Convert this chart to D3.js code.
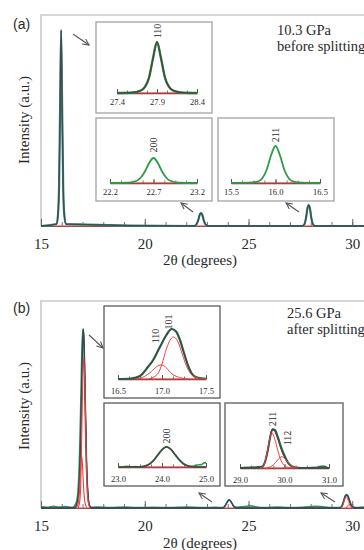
<!DOCTYPE html>
<html><head><meta charset="utf-8">
<script src="https://cdn.jsdelivr.net/npm/d3@7"></script>
<style>
body{margin:0;background:#fff;}
svg{display:block;}
text{font-family:"Liberation Serif","DejaVu Serif",serif;fill:#2a2a2a;}
text.tag{font-family:"Liberation Sans","DejaVu Sans",Arial,sans-serif;}
</style></head><body>
<svg id="c" width="364" height="550"></svg>
<script>
// ---------------- DATA ----------------
const mainTicksMajor = [15, 20, 25, 30];
const mainTicksMinor = [15,16,17,18,19,20,21,22,23,24,25,26,27,28,29,30,31];

// Panel (a) 10.3 GPa, main pattern
const aMainX = [15.0, 15.75, 15.82, 15.87, 15.92, 15.97, 16.02, 16.07, 16.12, 16.2, 22.4, 22.5, 22.58, 22.65, 22.71, 22.77, 22.84, 22.92, 23.05, 27.6, 27.7, 27.77, 27.84, 27.9, 27.96, 28.03, 28.1, 28.2, 31.0];
const aMainY = [0, 0.01, 0.06, 0.2, 0.6, 1.0, 0.6, 0.2, 0.06, 0.01, 0, 0.01, 0.03, 0.058, 0.066, 0.058, 0.03, 0.01, 0, 0, 0.01, 0.04, 0.09, 0.107, 0.09, 0.04, 0.01, 0, 0];

// Inset (a) 110
const a1X = [27.4, 27.6, 27.7, 27.75, 27.8, 27.85, 27.9, 27.95, 28.0, 28.05, 28.1, 28.2, 28.4];
const a1Y = [0, 0.01, 0.05, 0.12, 0.3, 0.68, 1.0, 0.68, 0.3, 0.12, 0.05, 0.01, 0];
const a1Ticks = [27.4, 27.9, 28.4];
// Inset (a) 200
const a2X = [22.2, 22.4, 22.5, 22.55, 22.6, 22.65, 22.7, 22.75, 22.8, 22.85, 22.9, 23.0, 23.2];
const a2Y = [0, 0.01, 0.08, 0.2, 0.45, 0.8, 1.0, 0.8, 0.45, 0.2, 0.08, 0.01, 0];
const a2Ticks = [22.2, 22.7, 23.2];
// Inset (a) 211
const a3X = [15.5, 15.7, 15.8, 15.85, 15.9, 15.95, 16.0, 16.05, 16.1, 16.15, 16.2, 16.3, 16.5];
const a3Y = [0, 0.01, 0.04, 0.12, 0.35, 0.75, 1.0, 0.75, 0.35, 0.12, 0.04, 0.01, 0];
const a3Ticks = [15.5, 16.0, 16.5];

// Panel (b) 25.6 GPa, main pattern (fit)
const bFitX = [15.0, 16.6, 16.72, 16.8, 16.88, 16.94, 16.99, 17.04, 17.09, 17.14, 17.2, 17.27, 17.35, 17.45, 23.75, 23.85, 23.95, 24.07, 24.19, 24.29, 24.4, 29.4, 29.5, 29.58, 29.66, 29.73, 29.8, 29.88, 29.96, 30.05, 30.15, 31.0];
const bFitY = [0, 0, 0.02, 0.07, 0.25, 0.55, 0.85, 1.0, 0.88, 0.58, 0.25, 0.07, 0.01, 0, 0, 0.008, 0.028, 0.045, 0.028, 0.008, 0, 0, 0.01, 0.035, 0.065, 0.073, 0.062, 0.035, 0.012, 0.003, 0, 0];
// main pattern (measured data)
const bDataX = [15.0, 15.3, 15.6, 15.9, 16.2, 16.5, 16.7, 16.78, 16.86, 16.92, 16.97, 17.02, 17.07, 17.12, 17.18, 17.25, 17.33, 17.45, 17.8, 18.3, 19.0, 19.6, 20.4, 21.2, 22.0, 22.8, 23.4, 23.75, 23.85, 23.95, 24.07, 24.19, 24.29, 24.45, 24.8, 25.1, 25.4, 25.8, 26.4, 27.0, 27.6, 28.2, 28.5, 28.9, 29.4, 29.5, 29.58, 29.66, 29.73, 29.8, 29.88, 29.96, 30.05, 30.2, 30.6, 31.0];
const bDataY = [0.008, 0.004, 0.01, 0.005, 0.008, 0.003, 0.03, 0.09, 0.3, 0.6, 0.88, 1.0, 0.9, 0.6, 0.27, 0.08, 0.015, 0.004, 0.006, 0.002, 0.005, 0.002, 0.004, 0.002, 0.005, 0.002, 0.004, 0.002, 0.01, 0.03, 0.046, 0.03, 0.01, 0.004, 0.008, 0.012, 0.006, 0.003, 0.005, 0.002, 0.004, 0.01, 0.008, 0.003, 0.002, 0.012, 0.038, 0.068, 0.075, 0.066, 0.04, 0.015, 0.005, 0.003, 0.006, 0.002];
// main pattern (red components)
const b110X = [16.7, 16.8, 16.87, 16.92, 16.96, 17.0, 17.05, 17.12, 17.22];
const b110Y = [0, 0.03, 0.12, 0.24, 0.29, 0.24, 0.12, 0.03, 0];
const b101X = [16.8, 16.88, 16.94, 17.0, 17.06, 17.12, 17.18, 17.25, 17.35];
const b101Y = [0, 0.05, 0.25, 0.65, 0.84, 0.65, 0.28, 0.06, 0];
const b211X = [29.45, 29.55, 29.63, 29.72, 29.8, 29.88, 30.0];
const b211Y = [0, 0.015, 0.045, 0.062, 0.045, 0.015, 0];
const b112X = [29.7, 29.78, 29.85, 29.93, 30.02];
const b112Y = [0, 0.012, 0.02, 0.012, 0];
const baseX = [15.0, 31.0];
const baseY = [0, 0];

// Inset (b) 110/101
const b1FitX = [16.5, 16.65, 16.75, 16.84, 16.9, 16.95, 17.0, 17.05, 17.11, 17.16, 17.2, 17.25, 17.3, 17.35, 17.4, 17.5];
const b1FitY = [0, 0.01, 0.06, 0.24, 0.38, 0.55, 0.72, 0.88, 1.0, 0.95, 0.8, 0.52, 0.25, 0.08, 0.03, 0.005];
const b1R101X = [16.85, 16.95, 17.0, 17.05, 17.1, 17.13, 17.18, 17.23, 17.28, 17.33, 17.4, 17.5];
const b1R101Y = [0, 0.1, 0.3, 0.6, 0.8, 0.84, 0.75, 0.5, 0.25, 0.1, 0.03, 0];
const b1R110X = [16.7, 16.8, 16.88, 16.94, 16.99, 17.04, 17.1, 17.2, 17.3];
const b1R110Y = [0, 0.05, 0.15, 0.25, 0.28, 0.24, 0.12, 0.03, 0];
const b1Ticks = [16.5, 17.0, 17.5];
// Inset (b) 200
const b2FitX = [23.0, 23.5, 23.6, 23.7, 23.8, 23.9, 24.0, 24.1, 24.2, 24.3, 24.4, 24.5, 24.6, 24.7, 25.0];
const b2FitY = [0, 0.01, 0.04, 0.12, 0.3, 0.58, 0.85, 1.0, 0.88, 0.62, 0.35, 0.15, 0.05, 0.01, 0];
const b2DataX = [23.0, 23.1, 23.2, 23.3, 23.4, 23.5, 23.6, 23.7, 23.8, 23.9, 24.0, 24.1, 24.2, 24.3, 24.4, 24.5, 24.6, 24.7, 24.8, 24.9, 24.95, 25.0];
const b2DataY = [0.02, 0.01, 0.03, 0.01, 0.02, 0.01, 0.05, 0.14, 0.32, 0.6, 0.88, 1.02, 0.9, 0.6, 0.33, 0.13, 0.05, 0.04, 0.1, 0.12, 0.2, 0.22];
const b2Ticks = [23.0, 24.0, 25.0];
// Inset (b) 211/112
const b3FitX = [29.0, 29.4, 29.5, 29.57, 29.63, 29.68, 29.73, 29.78, 29.85, 29.92, 30.0, 30.08, 30.16, 30.25, 30.4, 31.0];
const b3FitY = [0, 0.005, 0.04, 0.2, 0.5, 0.82, 1.0, 0.95, 0.75, 0.5, 0.28, 0.12, 0.04, 0.01, 0, 0];
const b3DataX = [29.0, 29.5, 29.57, 29.63, 29.68, 29.73, 29.78, 29.85, 29.92, 30.0, 30.08, 30.16, 30.25, 30.5, 30.75, 30.82, 30.9, 30.95, 31.0];
const b3DataY = [0, 0.03, 0.18, 0.48, 0.8, 0.99, 0.98, 0.8, 0.55, 0.32, 0.14, 0.05, 0.015, 0, 0.01, 0.04, 0.04, 0.01, 0];
const b3R211X = [29.45, 29.53, 29.6, 29.66, 29.72, 29.78, 29.85, 29.92, 30.0, 30.1, 30.2];
const b3R211Y = [0, 0.06, 0.35, 0.72, 0.9, 0.75, 0.45, 0.2, 0.06, 0.01, 0];
const b3R112X = [29.6, 29.7, 29.8, 29.88, 29.94, 30.0, 30.08, 30.18, 30.3];
const b3R112Y = [0, 0.04, 0.14, 0.25, 0.29, 0.25, 0.14, 0.04, 0];
const b3Ticks = [29.0, 30.0, 31.0];

// ---------------- DRAWING ----------------
const GREEN = "#2f9a45", DARK = "#474747", RED = "#f04040";
const svg = d3.select("#c");

svg.append("defs").append("marker")
  .attr("id","ah").attr("viewBox","0 0 10 10").attr("refX",9).attr("refY",5)
  .attr("markerWidth",7).attr("markerHeight",7).attr("orient","auto")
  .append("path").attr("d","M1,1 L9,5 L1,9").attr("fill","none").attr("stroke","#555").attr("stroke-width",1.4);

function curve(g, xs, ys, xs_, ys_, color, w) {
  const line = d3.line().x(i => xs_(xs[i])).y(i => ys_(ys[i])).curve(d3.curveMonotoneX);
  g.append("path").attr("d", line(d3.range(xs.length)))
    .attr("fill","none").attr("stroke",color).attr("stroke-width",w).attr("stroke-linejoin","round");
}

function mainPanel(o) {
  const x = d3.scaleLinear().domain([15,31]).range([41, 41 + 16*20.75]);
  const y = d3.scaleLinear().domain([0,1]).range([o.axisY, o.peakY]);
  const g = svg.append("g");
  g.append("path").attr("d", `M41,${o.axisY} V${o.top} H364`).attr("fill","none").attr("stroke","#c9c9c9").attr("stroke-width",1.6);
  const gm = g.append("g").attr("transform",`translate(0,${o.axisY})`)
    .call(d3.axisBottom(x).tickValues(mainTicksMinor).tickSizeInner(-4).tickSizeOuter(0).tickFormat(""));
  gm.selectAll(".tick line").attr("stroke","#777");
  gm.select(".domain").attr("stroke","#555").attr("stroke-width",1.2);
  const ga = g.append("g").attr("transform",`translate(0,${o.axisY})`)
    .call(d3.axisBottom(x).tickValues(mainTicksMajor).tickSizeInner(-7).tickSizeOuter(0).tickPadding(12).tickFormat(d3.format("d")));
  ga.select(".domain").remove();
  ga.selectAll(".tick line").attr("stroke","#666");
  ga.selectAll(".tick text").attr("font-size",15).attr("fill","#2a2a2a");
  g.append("text").attr("x",200).attr("y",o.xlabY).attr("text-anchor","middle").attr("font-size",15).text("2θ (degrees)");
  g.append("text").attr("transform",`translate(29,${o.ylabC}) rotate(-90)`).attr("text-anchor","middle").attr("font-size",15).text("Intensity (a.u.)");
  g.append("text").attr("class","tag").attr("x",13).attr("y",o.tagY).attr("font-size",14).text(o.tag);
  g.append("text").attr("x",o.noteX).attr("y",o.noteY).attr("font-size",14.5).text(o.note1);
  g.append("text").attr("x",o.noteX).attr("y",o.noteY+16).attr("font-size",14.5).text(o.note2);
  o.draw(g, x, y);
  o.arrows.forEach(a => g.append("line").attr("x1",a[0]).attr("y1",a[1]).attr("x2",a[2]).attr("y2",a[3])
    .attr("stroke","#555").attr("stroke-width",1.1).attr("marker-end","url(#ah)"));
}

function inset(o) {
  const g = svg.append("g");
  g.append("rect").attr("x",o.box[0]).attr("y",o.box[1]).attr("width",o.box[2]-o.box[0]).attr("height",o.box[3]-o.box[1])
    .attr("fill","#fff").attr("stroke",o.boxColor).attr("stroke-width",1.3);
  const x = d3.scaleLinear().domain([o.ticks[0], o.ticks[2]]).range(o.xr);
  const y = d3.scaleLinear().domain([0,1]).range([o.axisY, o.topY]);
  const step = (o.ticks[2]-o.ticks[0])/8;
  const minor = d3.range(9).map(i => o.ticks[0] + i*step);
  const gm = g.append("g").attr("transform",`translate(0,${o.axisY})`)
    .call(d3.axisBottom(x).tickValues(minor).tickSizeInner(-2.5).tickSizeOuter(0).tickFormat(""));
  gm.select(".domain").attr("stroke","#6a3a3a").attr("stroke-width",1.4);
  gm.selectAll(".tick line").attr("stroke","#777");
  const ga = g.append("g").attr("transform",`translate(0,${o.axisY})`)
    .call(d3.axisBottom(x).tickValues(o.ticks).tickSizeInner(-4).tickSizeOuter(0).tickPadding(o.pad).tickFormat(d3.format(".1f")));
  ga.select(".domain").remove();
  ga.selectAll(".tick line").attr("stroke","#555");
  ga.selectAll(".tick text").attr("font-size",8.5).attr("fill","#333");
  o.draw(g, x, y);
  o.labels.forEach(l => g.append("text").attr("transform",`translate(${x(l[1])},${l[2]}) rotate(-90)`)
    .attr("text-anchor","middle").attr("dominant-baseline","central").attr("font-size",10).text(l[0]));
}

// Panel (a)
mainPanel({top:15, axisY:226, peakY:30, xlabY:265, ylabC:120, tag:"(a)", tagY:29,
  noteX:277, noteY:35, note1:"10.3 GPa", note2:"before splitting",
  arrows:[[73,34,89,45],[193,212,181,203],[299,212,286,203]],
  draw:(g,x,y)=>{
    curve(g, baseX, baseY, x, y, RED, 1.2);
    curve(g, aMainX, aMainY, x, y, "#2b8f8a", 2.2);
    curve(g, aMainX, aMainY, x, y, DARK, 1.3);
  }});
inset({box:[96,22,212,113], boxColor:"#a3a3a3", xr:[117,197], axisY:93, topY:42, ticks:a1Ticks, pad:6,
  labels:[["110",27.9,31]],
  draw:(g,x,y)=>{ curve(g,[27.4,28.4],[0,0],x,y,RED,1.1); curve(g,a1X,a1Y,x,y,GREEN,2.4); curve(g,a1X,a1Y,x,y,DARK,1.5); }});
inset({box:[96,118,212,201], boxColor:"#a3a3a3", xr:[110,197], axisY:183, topY:158, ticks:a2Ticks, pad:6,
  labels:[["200",22.7,145]],
  draw:(g,x,y)=>{ curve(g,[22.2,23.2],[0,0],x,y,RED,1.1); curve(g,a2X,a2Y,x,y,GREEN,1.8); }});
inset({box:[218,118,334,201], boxColor:"#a3a3a3", xr:[231,320], axisY:183, topY:146, ticks:a3Ticks, pad:6,
  labels:[["211",16.0,135]],
  draw:(g,x,y)=>{ curve(g,[15.5,16.5],[0,0],x,y,RED,1.1); curve(g,a3X,a3Y,x,y,GREEN,1.8); }});

// Panel (b)
mainPanel({top:301, axisY:508, peakY:329, xlabY:548, ylabC:406, tag:"(b)", tagY:313,
  noteX:287, noteY:318, note1:"25.6 GPa", note2:"after splitting",
  arrows:[[89,335,103,348],[212,502,199,493],[335,502,321,493]],
  draw:(g,x,y)=>{
    curve(g, baseX, baseY, x, y, RED, 1.1);
    curve(g, bDataX, bDataY, x, y, GREEN, 1.6);
    curve(g, bFitX, bFitY, x, y, "#2a3f8a", 1.3);
    curve(g, bFitX, bFitY, x, y, DARK, 1.0);
    curve(g, b110X, b110Y, x, y, RED, 1.1);
    curve(g, b101X, b101Y, x, y, RED, 1.1);
    curve(g, b211X, b211Y, x, y, RED, 1.0);
    curve(g, b112X, b112Y, x, y, RED, 1.0);
  }});
inset({box:[104,306,220,398], boxColor:"#5a5a5a", xr:[118,206], axisY:379, topY:329, ticks:b1Ticks, pad:9,
  labels:[["110",16.93,336],["101",17.07,322]],
  draw:(g,x,y)=>{ curve(g,[16.5,17.5],[0,0],x,y,RED,1.1);
    curve(g,b1FitX,b1FitY,x,y,"#1f6b45",2.2); curve(g,b1FitX,b1FitY,x,y,DARK,1.1);
    curve(g,b1R110X,b1R110Y,x,y,RED,1.0); curve(g,b1R101X,b1R101Y,x,y,RED,1.0); }});
inset({box:[104,403,220,486], boxColor:"#5a5a5a", xr:[118,206], axisY:467, topY:447, ticks:b2Ticks, pad:9,
  labels:[["200",24.1,436]],
  draw:(g,x,y)=>{ curve(g,[23.0,25.0],[0,0],x,y,RED,1.2);
    curve(g,b2DataX,b2DataY,x,y,GREEN,1.6); curve(g,b2FitX,b2FitY,x,y,DARK,1.6); }});
inset({box:[225,403,343,486], boxColor:"#5a5a5a", xr:[240,329], axisY:468, topY:429, ticks:b3Ticks, pad:9,
  labels:[["211",29.74,419],["112",30.06,438]],
  draw:(g,x,y)=>{ curve(g,[29.0,31.0],[0,0],x,y,RED,1.2);
    curve(g,b3DataX,b3DataY,x,y,"#1f6b45",2.0); curve(g,b3FitX,b3FitY,x,y,DARK,1.3);
    curve(g,b3R211X,b3R211Y,x,y,RED,1.0); curve(g,b3R112X,b3R112Y,x,y,RED,1.0); }});
</script>
</body></html>
